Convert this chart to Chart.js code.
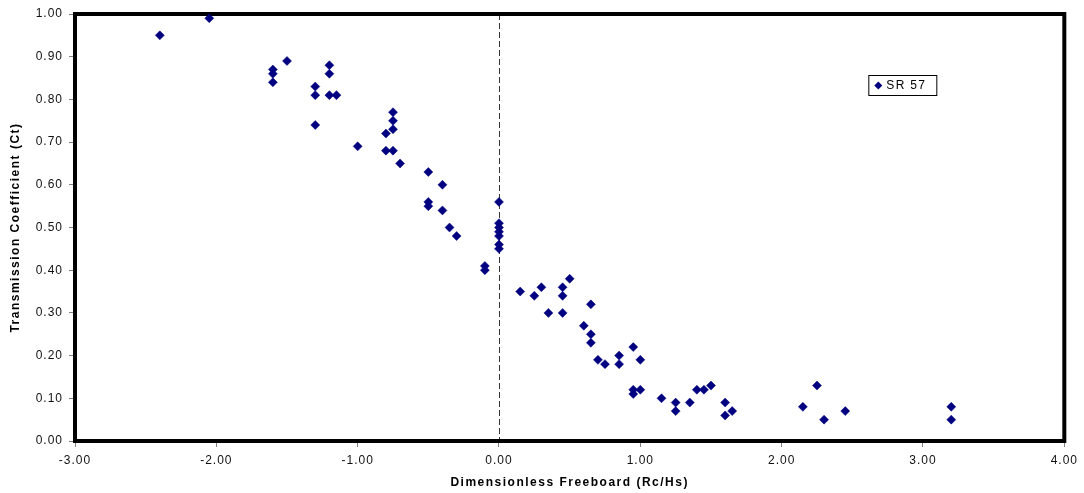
<!DOCTYPE html>
<html>
<head>
<meta charset="utf-8">
<script src="https://cdn.jsdelivr.net/npm/chart.js@4/dist/chart.umd.min.js"></script>
<style>
  html, body { margin: 0; padding: 0; background: #fff; }
  canvas { display: block; }
</style>
</head>
<body>
<canvas id="chart" width="1084" height="493"></canvas>
<script>
// Rc/Hs values
const freeboard = [
  -2.40, -2.05, -1.60, -1.60, -1.60, -1.50, -1.30, -1.30, -1.30, -1.20,
  -1.20, -1.20, -1.15, -1.00, -0.80, -0.80, -0.75, -0.75, -0.75, -0.75,
  -0.70, -0.50, -0.50, -0.50, -0.40, -0.40, -0.35, -0.30, -0.10, -0.10,
  0.00, 0.00, 0.00, 0.00, 0.00, 0.00, 0.00, 0.15, 0.25, 0.30,
  0.35, 0.45, 0.45, 0.45, 0.50, 0.60, 0.65, 0.65, 0.65, 0.70,
  0.75, 0.85, 0.85, 0.95, 0.95, 0.95, 1.00, 1.00, 1.15, 1.25,
  1.25, 1.35, 1.40, 1.45, 1.50, 1.60, 1.60, 1.65, 2.15, 2.25,
  2.30, 2.45, 3.20, 3.20
];
// Ct values, same order
const transmission = [
  0.95, 0.99, 0.87, 0.86, 0.84, 0.89, 0.83, 0.81, 0.74, 0.88,
  0.86, 0.81, 0.81, 0.69, 0.72, 0.68, 0.77, 0.75, 0.73, 0.68,
  0.65, 0.63, 0.56, 0.55, 0.60, 0.54, 0.50, 0.48, 0.41, 0.40,
  0.56, 0.51, 0.50, 0.49, 0.48, 0.46, 0.45, 0.35, 0.34, 0.36,
  0.30, 0.36, 0.34, 0.30, 0.38, 0.27, 0.32, 0.25, 0.23, 0.19,
  0.18, 0.20, 0.18, 0.22, 0.12, 0.11, 0.19, 0.12, 0.10, 0.09,
  0.07, 0.09, 0.12, 0.12, 0.13, 0.09, 0.06, 0.07, 0.08, 0.13,
  0.05, 0.07, 0.08, 0.05
];
const seriesName = 'SR 57';
const xTitle = 'Dimensionless Freeboard (Rc/Hs)';
const yTitle = 'Transmission Coefficient (Ct)';
const xRange = [-3, 4];
const yRange = [0, 1];

const points = freeboard.map((x, i) => ({ x: x, y: transmission[i] }));

const FONT = '"Liberation Sans", Arial, sans-serif';
const NAVY = '#000080';

const excelLook = {
    id: 'excelLook',
    beforeUpdate(chart) {
        chart.ctx.letterSpacing = '1px';
    },
    beforeDraw(chart) {
        chart.ctx.letterSpacing = '1px';
    },
    beforeDatasetsDraw(chart) {
        const ctx = chart.ctx;
        const a = chart.chartArea;
        const x0 = chart.scales.x.getPixelForValue(0);
        ctx.save();
        // dashed zero line
        ctx.strokeStyle = '#333';
        ctx.lineWidth = 1;
        ctx.setLineDash([6, 3]);
        ctx.beginPath();
        ctx.moveTo(Math.round(x0) + 0.5, a.top);
        ctx.lineTo(Math.round(x0) + 0.5, a.bottom);
        ctx.stroke();
        ctx.setLineDash([]);
        // thick plot frame
        ctx.strokeStyle = '#000';
        ctx.lineWidth = 4;
        ctx.strokeRect(a.left, a.top, a.right - a.left, a.bottom - a.top);
        ctx.restore();
    },
    afterDraw(chart) {
        const ctx = chart.ctx;
        const a = chart.chartArea;
        ctx.save();
        ctx.fillStyle = '#000';
        ctx.font = 'bold 12px ' + FONT;
        ctx.letterSpacing = '1.5px';
        ctx.textAlign = 'center';
        ctx.textBaseline = 'middle';
        ctx.fillText(xTitle, (a.left + a.right) / 2, 483);
        ctx.translate(16, (a.top + a.bottom) / 2);
        ctx.rotate(-Math.PI / 2);
        ctx.fillText(yTitle, 0, 0);
        ctx.restore();

        // legend box
        const bx = a.right - 196, by = a.top + 61, bw = 68, bh = 20;
        ctx.save();
        ctx.fillStyle = '#fff';
        ctx.fillRect(bx, by, bw, bh);
        ctx.strokeStyle = '#000';
        ctx.lineWidth = 1;
        ctx.strokeRect(bx + 0.5, by + 0.5, bw, bh);
        const cx = bx + 10, cy = by + 10.5, r = 4;
        ctx.fillStyle = NAVY;
        ctx.beginPath();
        ctx.moveTo(cx, cy - r);
        ctx.lineTo(cx + r, cy);
        ctx.lineTo(cx, cy + r);
        ctx.lineTo(cx - r, cy);
        ctx.closePath();
        ctx.fill();
        ctx.fillStyle = '#000';
        ctx.font = '12px ' + FONT;
        ctx.letterSpacing = '1.3px';
        ctx.textAlign = 'left';
        ctx.textBaseline = 'middle';
        ctx.fillText(seriesName, bx + 18, cy);
        ctx.restore();
    }
};

new Chart(document.getElementById('chart'), {
    type: 'scatter',
    data: {
        datasets: [{
            label: seriesName,
            data: points,
            pointStyle: 'rectRot',
            pointRadius: 4.5,
            pointHoverRadius: 4.5,
            backgroundColor: NAVY,
            borderColor: NAVY,
            borderWidth: 0.5
        }]
    },
    options: {
        responsive: false,
        animation: false,
        devicePixelRatio: 1,
        layout: { padding: { top: 14, right: 19, left: 0, bottom: 0 } },
        plugins: {
            legend: { display: false },
            tooltip: { enabled: false }
        },
        scales: {
            x: {
                type: 'linear',
                min: xRange[0],
                max: xRange[1],
                afterFit(scale) { scale.height = 52; },
                border: { display: false },
                grid: {
                    drawOnChartArea: false,
                    drawTicks: true,
                    tickLength: 6,
                    color: '#808080'
                },
                ticks: {
                    stepSize: 1,
                    padding: 6,
                    color: '#111',
                    font: { family: FONT, size: 12 },
                    callback: v => v.toFixed(2)
                }
            },
            y: {
                type: 'linear',
                min: yRange[0],
                max: yRange[1],
                afterFit(scale) { scale.width = 75; },
                border: { display: false },
                grid: {
                    drawOnChartArea: false,
                    drawTicks: true,
                    tickLength: 6,
                    color: '#808080'
                },
                ticks: {
                    stepSize: 0.1,
                    padding: 6,
                    color: '#111',
                    font: { family: FONT, size: 12 },
                    callback: v => v.toFixed(2)
                }
            }
        }
    },
    plugins: [excelLook]
});
</script>
</body>
</html>
